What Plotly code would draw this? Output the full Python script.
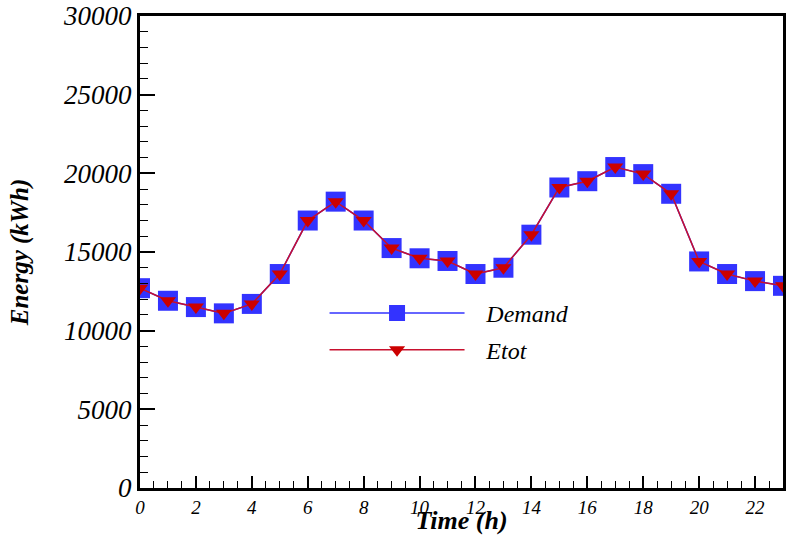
import plotly.graph_objects as go

hours = list(range(24))
demand = [12700, 11900, 11500, 11100, 11700, 13600, 17000, 18200, 17000, 15250, 14600, 14430,
          13600, 14000, 16100, 19100, 19500, 20400, 19950, 18700, 14400, 13600, 13150, 12850]
etot = [12700, 11900, 11500, 11100, 11700, 13600, 17000, 18200, 17000, 15250, 14600, 14430,
        13600, 14000, 16100, 19100, 19500, 20400, 19950, 18700, 14400, 13600, 13150, 12850]
x_ticks = list(range(0, 24, 2))
y_ticks = list(range(0, 30001, 5000))
x_title = "Time (h)"
y_title = "Energy (kWh)"

serif = "Liberation Serif"
gap = "\u2002\u2009"

fig = go.Figure()
fig.add_trace(go.Scatter(
    x=hours, y=demand, name=gap + "Demand", mode="lines+markers",
    line=dict(color="#3333ff", width=1.5),
    marker=dict(symbol="square", size=20, color="#3333ff"),
    legend="legend", showlegend=True,
))
fig.add_trace(go.Scatter(
    x=hours, y=etot, name=gap + "Etot", mode="lines+markers",
    line=dict(color="#c8102e", width=1.5),
    marker=dict(symbol="triangle-down", size=14, color="#cc0000"),
    legend="legend2", showlegend=True,
))

legfont = dict(family=serif, size=24, style="italic", color="black")
fig.update_layout(
    width=787, height=535,
    margin=dict(l=140, r=4, t=16, b=47, autoexpand=False),
    paper_bgcolor="white", plot_bgcolor="white",
    showlegend=True,
    legend=dict(x=0.287, y=0.37, xanchor="left", yanchor="middle", font=legfont,
                itemwidth=135, bgcolor="rgba(0,0,0,0)", visible=True),
    legend2=dict(x=0.287, y=0.292, xanchor="left", yanchor="middle", font=legfont,
                 itemwidth=135, bgcolor="rgba(0,0,0,0)", visible=True),
    xaxis=dict(
        range=[0, 23], tickvals=x_ticks, ticktext=[str(v) for v in x_ticks],
        ticks="inside", ticklen=12, tickwidth=2, tickcolor="black",
        minor=dict(dtick=0.5, ticks="inside", ticklen=7, tickwidth=1, tickcolor="black"),
        showline=True, linecolor="black", linewidth=3, mirror=True,
        showgrid=False, zeroline=False, automargin=False,
        tickfont=dict(family=serif, size=19, style="italic", color="black"),
        title=dict(text=x_title, standoff=3,
                   font=dict(family=serif, size=26, style="italic", weight="bold", color="black")),
    ),
    yaxis=dict(
        range=[0, 30000], tickvals=y_ticks, ticktext=[str(v) for v in y_ticks],
        ticks="inside", ticklen=15, tickwidth=2, tickcolor="black",
        minor=dict(dtick=1000, ticks="inside", ticklen=8, tickwidth=1, tickcolor="black"),
        showline=True, linecolor="black", linewidth=3, mirror=True,
        showgrid=False, zeroline=False, automargin=False,
        tickfont=dict(family=serif, size=27, style="italic", color="black"),
        title=dict(text=y_title, standoff=28,
                   font=dict(family=serif, size=25, style="italic", weight="bold", color="black")),
    ),
)

fig.write_html("out.html", config={"displayModeBar": False},
               post_script="document.body.style.margin='0px';")
